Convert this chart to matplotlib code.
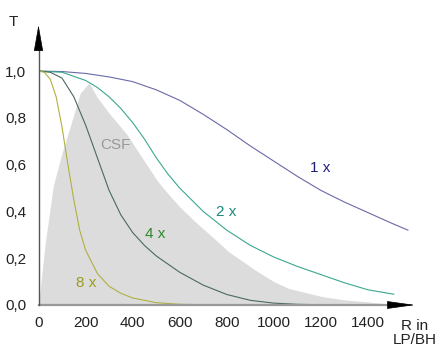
import matplotlib.pyplot as plt

# MTF curves (R in LP/BH, T)
r_1x = [0, 100, 200, 300, 400, 500, 600, 700, 800, 900, 1000, 1100, 1200, 1300, 1400, 1500, 1570]
t_1x = [1.0, 0.998, 0.99, 0.975, 0.955, 0.92, 0.875, 0.815, 0.75, 0.68, 0.615, 0.55, 0.49, 0.44, 0.395, 0.35, 0.32]

r_2x = [0, 100, 200, 250, 300, 350, 400, 450, 500, 550, 600, 700, 800, 900, 1000, 1100, 1200, 1300, 1400, 1510]
t_2x = [1.0, 0.995, 0.96, 0.93, 0.89, 0.84, 0.78, 0.71, 0.63, 0.56, 0.50, 0.40, 0.32, 0.255, 0.205, 0.165, 0.13, 0.095, 0.065, 0.046]

r_4x = [0, 50, 100, 150, 200, 250, 300, 350, 400, 450, 500, 600, 700, 800, 900, 1000, 1100, 1200, 1400, 1500]
t_4x = [1.0, 0.995, 0.97, 0.89, 0.77, 0.63, 0.49, 0.385, 0.31, 0.255, 0.21, 0.14, 0.085, 0.045, 0.02, 0.008, 0.003, 0.001, 0, 0]

r_8x = [0, 25, 50, 75, 100, 125, 150, 175, 200, 250, 300, 350, 400, 500, 600, 800, 1000, 1500]
t_8x = [1.0, 0.995, 0.965, 0.89, 0.76, 0.60, 0.45, 0.32, 0.235, 0.135, 0.08, 0.05, 0.03, 0.01, 0.003, 0, 0, 0]

# contrast sensitivity function (grey area)
r_csf = [0, 28, 63, 100, 134, 177, 215, 248, 300, 375, 440, 503, 538, 600, 666, 740, 808,
         920, 1000, 1063, 1205, 1300, 1389, 1480, 1500]
t_csf = [0, 0.26, 0.51, 0.65, 0.76, 0.905, 0.95, 0.89, 0.82, 0.73, 0.63, 0.534, 0.49, 0.42, 0.356, 0.29, 0.228,
         0.15, 0.10, 0.071, 0.036, 0.022, 0.014, 0.005, 0]

x_ticks = [0, 200, 400, 600, 800, 1000, 1200, 1400]
y_ticks = [0.0, 0.2, 0.4, 0.6, 0.8, 1.0]
y_labels = ['0,0', '0,2', '0,4', '0,6', '0,8', '1,0']

plt.rcParams['font.family'] = ['Liberation Sans', 'DejaVu Sans']

fig = plt.figure(figsize=(4.4, 3.52), dpi=100)
ax = fig.add_axes([38.5 / 440, 47 / 352, 376.5 / 440, 280 / 352])
ax.set_xlim(0, 1600)
ax.set_ylim(0, 1.197)

ax.fill_between(r_csf, t_csf, 0, color='#dcdcdc', lw=0)

ax.plot(r_1x, t_1x, color='#6a6aa8', lw=0.8)
ax.plot(r_2x, t_2x, color='#3aa890', lw=0.8)
ax.plot(r_4x, t_4x, color='#4a6a5a', lw=0.8)
ax.plot(r_8x, t_8x, color='#b0b040', lw=0.8)

ax.text(1198, 0.585, '1 x', color='#1f1f7a', fontsize=11, ha='center', va='center')
ax.text(798, 0.397, '2 x', color='#1a8a7a', fontsize=11, ha='center', va='center')
ax.text(496, 0.303, '4 x', color='#2a8a2a', fontsize=11, ha='center', va='center')
ax.text(202, 0.094, '8 x', color='#9a9a20', fontsize=11, ha='center', va='center')
ax.text(325, 0.684, 'CSF', color='#999999', fontsize=11, ha='center', va='center')

# axes with arrow heads
for s in ax.spines.values():
    s.set_visible(False)
ax.plot([0, 1500], [0, 0], color='#999999', lw=1.6, clip_on=False, zorder=3)
ax.plot([0, 0], [0, 1.1], color='#555555', lw=1.0, clip_on=False, zorder=3)
ax.annotate('', xy=(1600, 0), xytext=(1490, 0),
            arrowprops=dict(arrowstyle='-|>,head_length=1.8,head_width=0.25',
                            color='black', lw=0.5, shrinkA=0, shrinkB=0), annotation_clip=False)
ax.annotate('', xy=(0, 1.197), xytext=(0, 1.09),
            arrowprops=dict(arrowstyle='-|>,head_length=1.7,head_width=0.3',
                            color='black', lw=0.5, shrinkA=0, shrinkB=0), annotation_clip=False)

ax.set_xticks(x_ticks)
ax.set_xticklabels([str(v) for v in x_ticks])
ax.set_yticks(y_ticks)
ax.set_yticklabels(y_labels)
ax.tick_params(length=0, labelsize=11, colors='#222222')
ax.tick_params(axis='x', pad=8)
ax.tick_params(axis='y', pad=9)

fig.text(13 / 440, 1 - 22 / 352, 'T', fontsize=11, ha='center', va='center', color='#222222')
fig.text(415 / 440, 1 - 333 / 352, 'R in\nLP/BH', fontsize=11, ha='center', va='center',
         color='#222222', linespacing=1.0)

fig.savefig('out.png', dpi=100)
